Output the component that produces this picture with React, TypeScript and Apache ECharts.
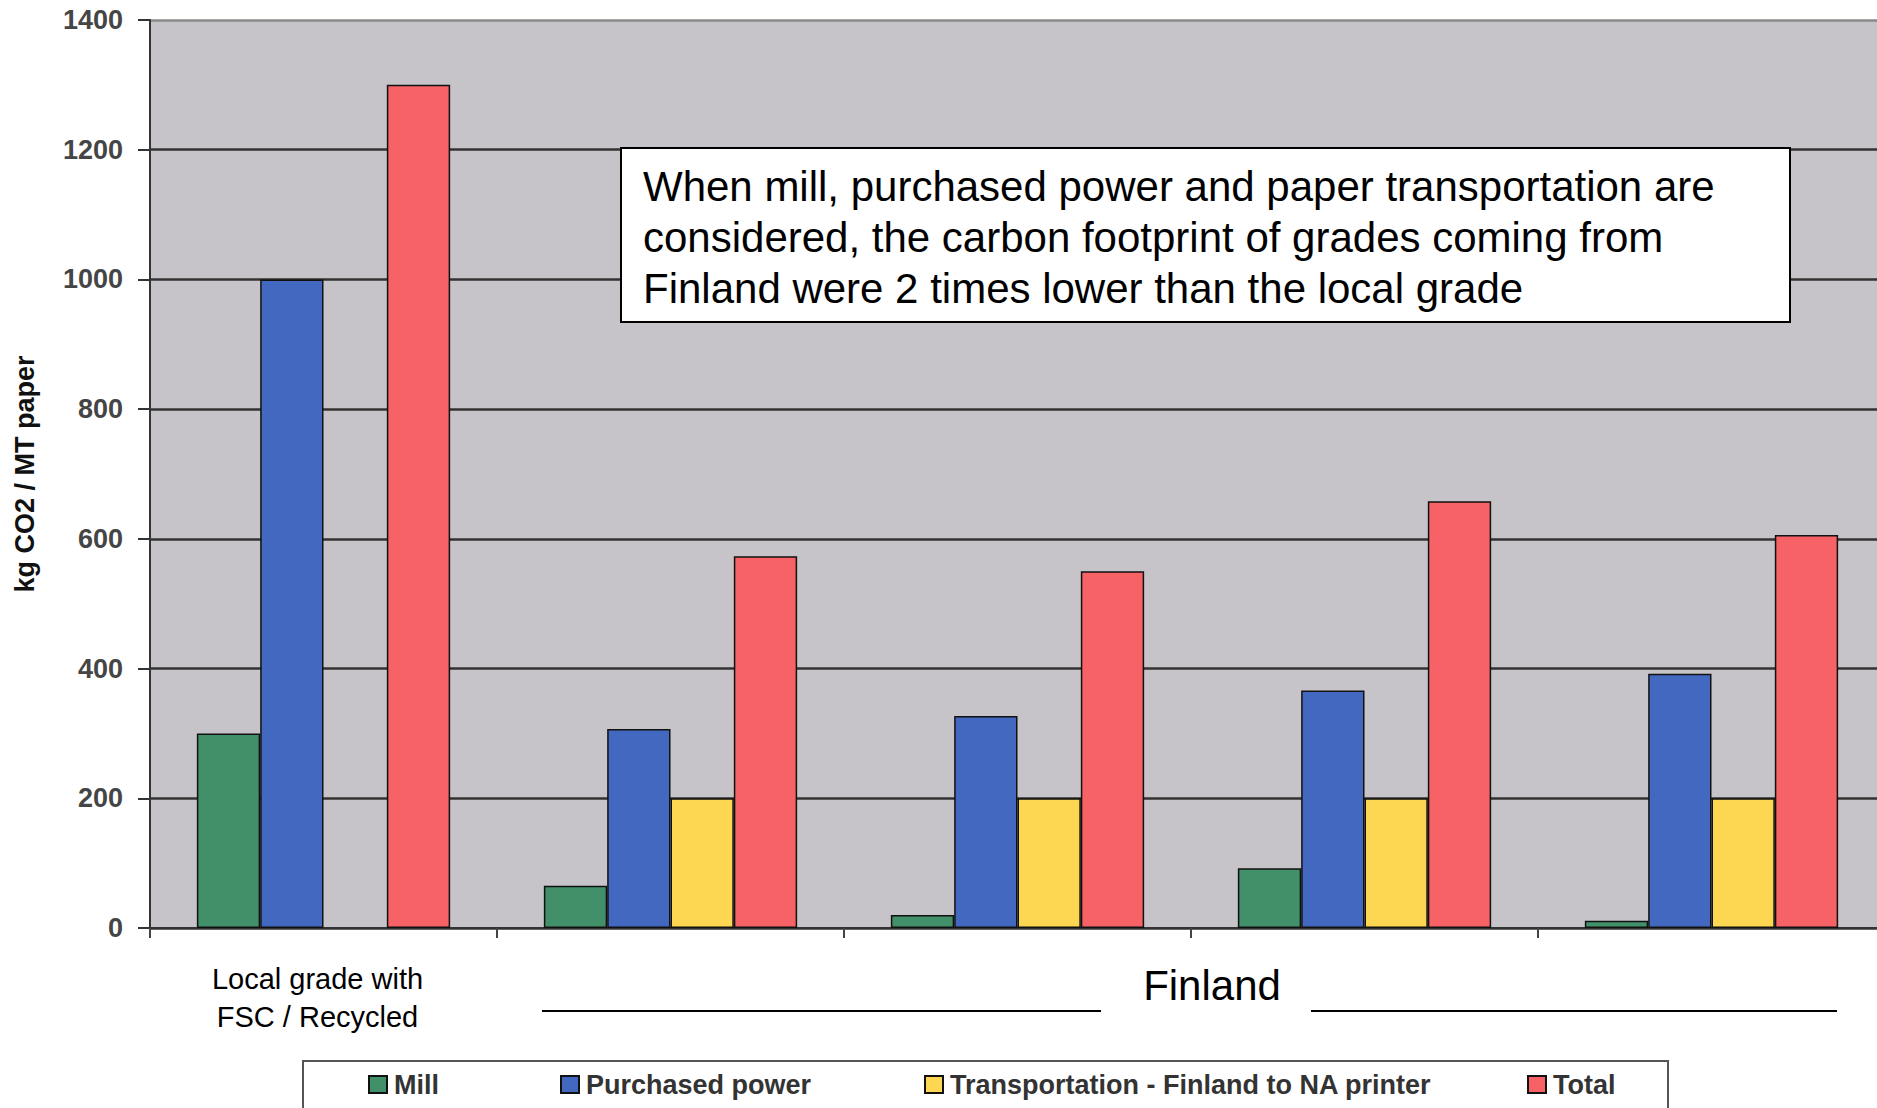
import React, { useEffect, useRef } from "react";
import * as echarts from "echarts";

// Paper grades compared
const grades = [
  "Local grade with\nFSC / Recycled",
  "Finland grade 1",
  "Finland grade 2",
  "Finland grade 3",
  "Finland grade 4",
];

// kg CO2 per metric tonne of paper
const millValues = [300, 65, 20, 92, 11];
const powerValues = [1000, 307, 327, 366, 392];
const transportValues: (number | string)[] = ["-", 200, 200, 200, 200];
const totalValues = [1300, 573, 550, 658, 606];

const seriesNames = [
  "Mill",
  "Purchased power",
  "Transportation - Finland to NA printer",
  "Total",
];
const seriesColors = ["#41906A", "#4368C0", "#FDD752", "#F66266"];

const yTicks = { min: 0, max: 1400, interval: 200 };
const yAxisTitle = "kg CO2 / MT paper";
const groupTitle = "Finland";
const noteText =
  "When mill, purchased power and paper transportation are\n" +
  "considered, the carbon footprint of grades coming from\n" +
  "Finland were 2 times lower than the local grade";

const FONT = "'Liberation Sans', Arial, sans-serif";

export default function App() {
  const ref = useRef<HTMLDivElement>(null);

  useEffect(() => {
    if (!ref.current) return;
    const chart = echarts.init(ref.current, undefined, { renderer: "svg" });

    const values = [millValues, powerValues, transportValues, totalValues];
    const series = seriesNames.map((name, i) => ({
      name,
      type: "bar" as const,
      data: values[i],
      barGap: "0%",
      barCategoryGap: "27%",
      itemStyle: {
        color: seriesColors[i],
        borderColor: "#111",
        borderWidth: 1.5,
      },
    }));

    // one legend per entry so each sits at its own place in the box
    const legendLefts = [368, 560, 924, 1527];
    const legends = seriesNames.map((name, i) => ({
      data: [name],
      left: legendLefts[i],
      top: 1071,
      padding: 0,
      itemWidth: 18,
      itemHeight: 17,
      icon: "rect",
      selectedMode: false,
      textStyle: {
        fontFamily: FONT,
        fontSize: 27,
        fontWeight: "bold" as const,
        color: "#333",
        padding: [0, 0, 0, 2],
      },
    }));

    chart.setOption({
      animation: false,
      backgroundColor: "#fff",
      grid: {
        left: 150,
        top: 20,
        right: -8,
        bottom: 180,
        outerBoundsMode: "none",
        containLabel: false,
        show: true,
        backgroundColor: "#C6C4C8",
        borderWidth: 0,
      },
      legend: legends,
      xAxis: {
        type: "category",
        data: grades,
        axisLine: { lineStyle: { color: "#333", width: 2 } },
        axisTick: { show: true, length: 10, lineStyle: { color: "#444", width: 2 } },
        axisLabel: {
          margin: 32,
          fontFamily: FONT,
          fontSize: 29,
          lineHeight: 38,
          color: "#000",
          padding: [0, 12, 0, 0],
          formatter: (v: string, idx: number) => (idx === 0 ? v : ""),
        },
      },
      yAxis: {
        type: "value",
        min: yTicks.min,
        max: yTicks.max,
        interval: yTicks.interval,
        name: yAxisTitle,
        nameLocation: "middle",
        nameGap: 112,
        nameRotate: 90,
        nameTextStyle: {
          fontFamily: FONT,
          fontSize: 27,
          fontWeight: "bold",
          color: "#111",
        },
        axisLine: { show: true, lineStyle: { color: "#333", width: 2 } },
        axisTick: { show: true, length: 12, lineStyle: { color: "#333", width: 2 } },
        axisLabel: {
          margin: 27,
          fontFamily: FONT,
          fontSize: 27,
          fontWeight: "bold",
          color: "#454545",
          formatter: (v: number) => String(v),
        },
        splitLine: {
          show: true,
          lineStyle: {
            color: ["#333", "#333", "#333", "#333", "#333", "#333", "#333", "#8a8a8a"],
            width: 2.5,
          },
        },
      },
      series,
      graphic: [
        {
          type: "rect",
          z: 10,
          shape: { x: 621, y: 148, width: 1169, height: 174 },
          style: { fill: "#fff", stroke: "#000", lineWidth: 2 },
        },
        {
          type: "text",
          z: 11,
          x: 643,
          y: 161,
          style: {
            text: noteText,
            fontFamily: FONT,
            fontSize: 42,
            lineHeight: 51,
            fill: "#000",
          },
        },
        {
          type: "text",
          z: 11,
          x: 1212,
          y: 985,
          style: {
            text: groupTitle,
            fontFamily: FONT,
            fontSize: 42,
            fill: "#000",
            align: "center",
            verticalAlign: "middle",
          },
        },
        {
          type: "line",
          z: 11,
          shape: { x1: 542, y1: 1011, x2: 1101, y2: 1011 },
          style: { stroke: "#000", lineWidth: 2 },
        },
        {
          type: "line",
          z: 11,
          shape: { x1: 1311, y1: 1011, x2: 1837, y2: 1011 },
          style: { stroke: "#000", lineWidth: 2 },
        },
        {
          type: "rect",
          z: 0,
          shape: { x: 303, y: 1061, width: 1365, height: 50 },
          style: { fill: "#fff", stroke: "#555", lineWidth: 2 },
        },
      ],
    });

    return () => chart.dispose();
  }, []);

  return (
    <div
      ref={ref}
      style={{ position: "fixed", left: 0, top: 0, width: 1877, height: 1108 }}
    />
  );
}
